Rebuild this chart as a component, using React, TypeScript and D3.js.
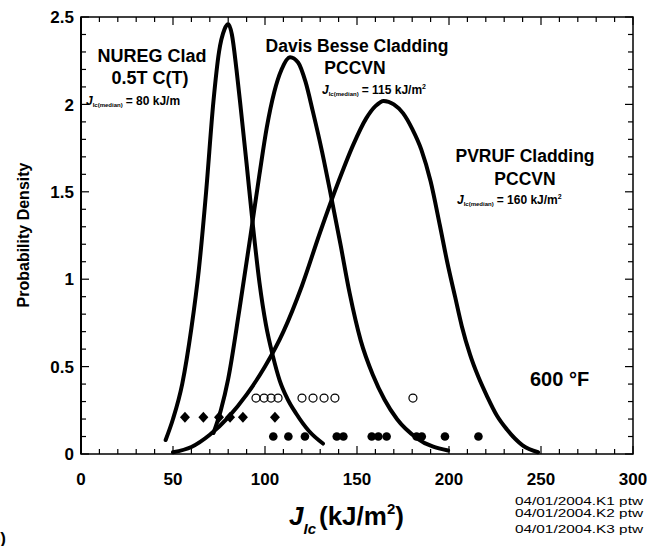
import React from "react";
import * as d3 from "d3";

// curves (J in kJ/m2, probability density)
const nuregJ = [46, 50, 55, 60, 64, 68, 72, 75, 78, 80, 82, 84.5, 87, 90, 93.5, 97, 100.5, 104.3, 108, 112, 117, 124, 131.5];
const nuregPd = [0.08, 0.2, 0.4, 0.72, 1.05, 1.5, 2.02, 2.3, 2.43, 2.46, 2.4, 2.2, 1.96, 1.66, 1.3, 0.98, 0.74, 0.56, 0.42, 0.32, 0.23, 0.13, 0.06];

const davisJ = [72, 76, 80, 86, 92, 97, 101, 105, 109, 113.6, 118, 122, 126, 131, 136, 141, 146, 152, 158.7, 165, 171.7, 182.6, 199.5];
const davisPd = [0.12, 0.25, 0.43, 0.82, 1.24, 1.6, 1.87, 2.07, 2.2, 2.27, 2.24, 2.13, 1.96, 1.73, 1.47, 1.2, 0.92, 0.65, 0.45, 0.31, 0.2, 0.09, 0.02];

const pvrufJ = [50, 60, 70, 80, 90, 100, 110, 120, 130, 140, 148, 155, 160, 164.5, 170, 175, 180, 185, 190, 195, 199, 203.3, 207, 211.4, 216, 220.7, 226, 231.5, 240, 248.4];
const pvrufPd = [0.01, 0.04, 0.11, 0.21, 0.34, 0.5, 0.7, 0.96, 1.27, 1.56, 1.77, 1.92, 1.99, 2.02, 2.0, 1.95, 1.86, 1.74, 1.56, 1.31, 1.1, 0.9, 0.73, 0.57, 0.44, 0.33, 0.22, 0.14, 0.05, 0.01];

// test data rows
const nuregPts = [56.5, 66.5, 75, 81, 88, 105.4];
const nuregLevel = 0.21;
const davisPts = [95.1, 99.5, 103.3, 107.1, 120.1, 126.1, 132.1, 138, 180.4];
const davisLevel = 0.32;
const pvrufPts = [104.5, 112.7, 121.7, 139, 142.6, 158, 161.6, 166.1, 182.4, 185.2, 197.8, 216];
const pvrufLevel = 0.1;

const xTickLabels = [0, 50, 100, 150, 200, 250, 300];
const yTickLabels = [0, 0.5, 1, 1.5, 2, 2.5];
const xMinor = d3.range(0, 301, 10);
const yMinor = d3.range(0, 26, 1).map(d => d / 10);

const footNotes = ["04/01/2004.K1 ptw", "04/01/2004.K2 ptw", "04/01/2004.K3 ptw"];

const W = 647, H = 546;
const FONT = "'Liberation Sans', Arial, sans-serif";

export default function App() {
  const x = d3.scaleLinear().domain([0, 300]).range([81, 633]);
  const y = d3.scaleLinear().domain([0, 2.5]).range([454, 17]);
  const line = d3.line<[number, number]>()
    .x(d => x(d[0]))
    .y(d => y(d[1]))
    .curve(d3.curveMonotoneX);

  const curves = [
    d3.zip(nuregJ, nuregPd),
    d3.zip(davisJ, davisPd),
    d3.zip(pvrufJ, pvrufPd),
  ] as [number, number][][];

  const [x0, x1] = x.range();
  const [y0, y1] = y.range();
  const isMajorX = (v: number) => v % 50 === 0;
  const isMajorY = (v: number) => Math.round(v * 10) % 5 === 0;

  return (
    <svg width={W} height={H} style={{position: "absolute", left: 0, top: 0, background: "#fff"}}
      fontFamily={FONT} fontWeight="bold">
      {/* frame */}
      <rect x={x0} y={y1} width={x1 - x0} height={y0 - y1} fill="none" stroke="#000" strokeWidth={1.5} />
      {xMinor.map(v => {
        const len = isMajorX(v) ? 8 : 5;
        return (
          <g key={"xt" + v} stroke="#000" strokeWidth={1.2}>
            <line x1={x(v)} x2={x(v)} y1={y0} y2={y0 - len} />
            <line x1={x(v)} x2={x(v)} y1={y1} y2={y1 + len} />
          </g>
        );
      })}
      {yMinor.map(v => {
        const len = isMajorY(v) ? 8 : 5;
        return (
          <g key={"yt" + v} stroke="#000" strokeWidth={1.2}>
            <line x1={x0} x2={x0 + len} y1={y(v)} y2={y(v)} />
            <line x1={x1} x2={x1 - len} y1={y(v)} y2={y(v)} />
          </g>
        );
      })}
      <line x1={x0} x2={x0} y1={y0} y2={y1} stroke="#000" strokeWidth={2} />

      {xTickLabels.map(v => (
        <text key={"xl" + v} x={x(v)} y={485} textAnchor="middle" fontSize={17}>{v}</text>
      ))}
      {yTickLabels.map(v => (
        <text key={"yl" + v} x={74} y={y(v)} dy="0.36em" textAnchor="end" fontSize={17}>{v}</text>
      ))}

      <text transform="translate(29,235) rotate(-90)" textAnchor="middle" fontSize={16}>Probability Density</text>

      <text x={289} y={525} fontSize={26}>
        <tspan fontStyle="italic">J</tspan>
        <tspan fontStyle="italic" fontSize={15} dy={9}>Ic</tspan>
        <tspan dx={3} dy={-9}>(kJ/m</tspan>
        <tspan fontSize={15} dy={-11}>2</tspan>
        <tspan dy={11}>)</tspan>
      </text>

      {curves.map((c, i) => (
        <path key={"c" + i} d={line(c) || ""} fill="none" stroke="#000" strokeWidth={4} strokeLinejoin="round" strokeLinecap="round" />
      ))}

      {nuregPts.map((v, i) => (
        <path key={"d" + i} d={`M${x(v)},${y(nuregLevel) - 5.5}l5,5.5l-5,5.5l-5,-5.5z`} fill="#000" />
      ))}
      {pvrufPts.map((v, i) => (
        <circle key={"f" + i} cx={x(v)} cy={y(pvrufLevel)} r={4.3} fill="#000" />
      ))}
      {davisPts.map((v, i) => (
        <circle key={"o" + i} cx={x(v)} cy={y(davisLevel)} r={4} fill="none" stroke="#000" strokeWidth={1.2} />
      ))}

      {/* curve labels */}
      <g fontSize={18} textAnchor="middle">
        <text x={152} y={62}>NUREG Clad</text>
        <text x={150} y={84}>0.5T C(T)</text>
        <text x={357} y={52} fontSize={17.5}>Davis Besse Cladding</text>
        <text x={355} y={74} fontSize={17.5}>PCCVN</text>
        <text x={525} y={162} fontSize={17.5}>PVRUF Cladding</text>
        <text x={525} y={185} fontSize={17.5}>PCCVN</text>
      </g>
      {[[86, 105, "= 80 kJ/m", ""], [322, 94, "= 115 kJ/m", "2"], [457, 204, "= 160 kJ/m", "2"]].map((l, i) => (
        <text key={"j" + i} x={l[0] as number} y={l[1] as number} fontSize={12}>
          <tspan fontStyle="italic">J</tspan>
          <tspan fontSize={6} dy={2}>Ic(median)</tspan>
          <tspan dx={3} dy={-2}>{l[2]}</tspan>
          <tspan fontSize={7} dy={-5}>{l[3]}</tspan>
        </text>
      ))}
      <text x={530} y={386} fontSize={20}>600 °F</text>

      {footNotes.map((t, i) => (
        <text key={"fn" + i} x={643} y={[505, 517, 533][i]} textAnchor="end" fontSize={11} fontWeight="normal"
          textLength={128} lengthAdjust="spacingAndGlyphs">{t}</text>
      ))}
      <text x={6} y={544} textAnchor="end" fontSize={17}>(b)</text>
    </svg>
  );
}
